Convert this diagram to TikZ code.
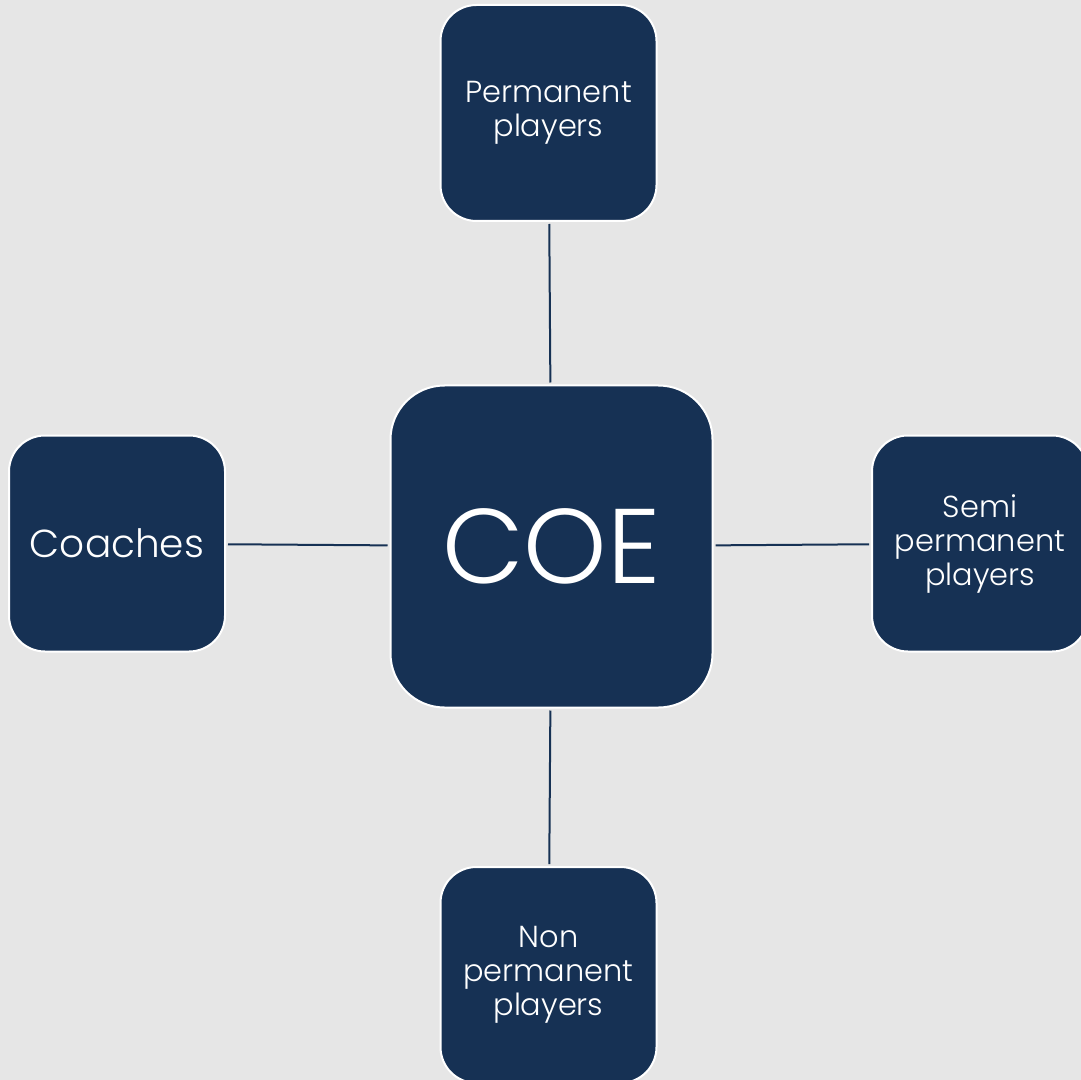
\documentclass[tikz,border=0pt]{standalone}
\usepackage{fontspec}
\setmainfont{Poppins}[UprightFont=* Light]
\definecolor{navy}{HTML}{163154}
\definecolor{bgray}{HTML}{E6E6E6}

\begin{document}
\begin{tikzpicture}[x=0.5pt,y=-0.5pt,
  box/.style={draw=white,line width=1pt,fill=navy,text=white,rounded corners=18pt,
    minimum width=108pt,minimum height=108pt,align=center,inner sep=0pt,outer sep=1.5pt,
    font=\fontsize{15.2}{17}\selectfont},
  link/.style={draw=navy,line width=1pt}]
  \fill[bgray] (0,0) rectangle (1081,1080);
  \useasboundingbox (0,0) rectangle (1081,1080);
  % centre
  \node[box,minimum width=161pt,minimum height=161pt,rounded corners=27pt,
    font=\fontsize{53}{60}\selectfont] (coe) at (551.5,546.5) {COE};
  % around it
  \node[box] (permanent) at (548.5,113) {Permanent\\players};
  \node[box,font=\fontsize{19.5}{22}\selectfont] (coaches) at (117,543.5) {Coaches};
  \node[box] (semi) at (980,543.5) {Semi\\permanent\\players};
  \node[box] (non) at (548.5,975) {Non\\permanent\\players};
  \draw[link] (permanent) -- (coe);
  \draw[link] (coaches) -- (coe);
  \draw[link] (semi) -- (coe);
  \draw[link] (non) -- (coe);
\end{tikzpicture}
\end{document}
